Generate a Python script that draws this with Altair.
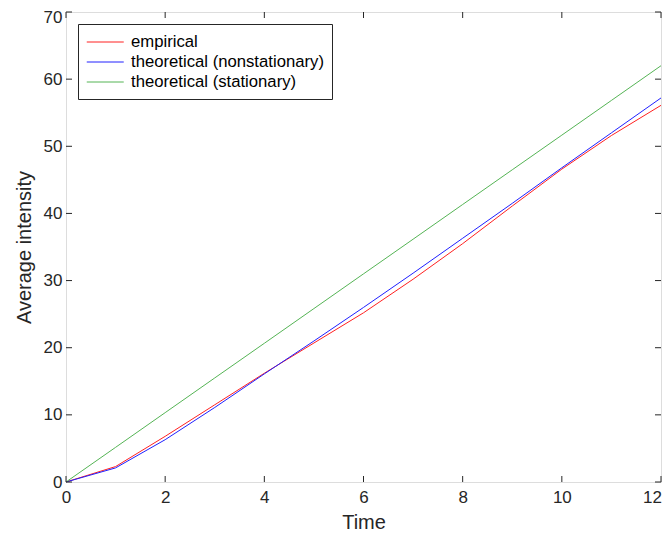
import altair as alt
import pandas as pd

time = [0, 1, 2, 3, 4, 5, 6, 7, 8, 9, 10, 11, 12]
empirical = [0, 2.3, 6.8, 11.5, 16.2, 20.7, 25.2, 30.2, 35.5, 41.1, 46.6, 51.6, 56.1]
nonstationary = [0, 2.1, 6.3, 11.1, 16.1, 21.0, 26.0, 31.1, 36.3, 41.5, 46.8, 52.0, 57.2]
stationary = [0, 5.16, 10.33, 15.5, 20.66, 25.83, 31.0, 36.16, 41.33, 46.5, 51.66, 56.83, 62.0]

series_names = ["empirical", "theoretical (nonstationary)", "theoretical (stationary)"]
series_colors = ["#ff2020", "#2020ff", "#55b455"]

x_ticks = [0, 2, 4, 6, 8, 10, 12]
y_ticks = [0, 10, 20, 30, 40, 50, 60, 70]

rows = []
for name, vals in zip(series_names, [empirical, nonstationary, stationary]):
    for t, v in zip(time, vals):
        rows.append({"Time": t, "value": v, "series": name})
df = pd.DataFrame(rows)

W, H = 595, 470
FONT = "Liberation Sans"
DARK = "#262626"

xs = alt.Scale(domain=[0, 12], nice=False)
ys = alt.Scale(domain=[0, 70], nice=False)

x_axis = alt.Axis(values=x_ticks, title="Time", tickSize=0, domain=False, grid=False,
                  labelPadding=7, titlePadding=7, labelFontSize=17, titleFontSize=20,
                  labelFont=FONT, titleFont=FONT, labelColor=DARK, titleColor=DARK,
                  titleFontWeight="normal", labelFlush=False,
                  labelOffset={"condition": {"test": "datum.value == 12", "value": -9}, "value": 0})
y_axis = alt.Axis(values=y_ticks, title="Average intensity", tickSize=0, domain=False, grid=False,
                  labelPadding=4, titlePadding=9, labelFontSize=17, titleFontSize=20,
                  labelFont=FONT, titleFont=FONT, labelColor=DARK, titleColor=DARK,
                  titleFontWeight="normal",
                  labelOffset={"condition": {"test": "datum.value == 70", "value": 5}, "value": 0})

lines = alt.Chart(df).mark_line(strokeWidth=1).encode(
    x=alt.X("Time:Q", scale=xs, axis=x_axis),
    y=alt.Y("value:Q", scale=ys, axis=y_axis),
    color=alt.Color("series:N", scale=alt.Scale(domain=series_names, range=series_colors),
                    legend=alt.Legend(title=None, orient="none", legendX=12, legendY=12,
                                      symbolType="M-1,0H3", symbolSize=342, symbolStrokeWidth=1,
                                      labelFontSize=16.7, labelFont=FONT, labelColor="#000000",
                                      strokeColor=DARK, fillColor="white", padding=8,
                                      rowPadding=1, labelOffset=25, labelLimit=400)),
    order=alt.Order("Time:Q"),
)

xt_df = pd.DataFrame({"Time": x_ticks})
yt_df = pd.DataFrame({"value": y_ticks})

xtick_b = alt.Chart(xt_df).mark_rule(color=DARK, strokeWidth=1).encode(
    x=alt.X("Time:Q", scale=xs, axis=x_axis), y=alt.value(H), y2=alt.value(H - 6))
xtick_t = alt.Chart(xt_df).mark_rule(color=DARK, strokeWidth=1).encode(
    x=alt.X("Time:Q", scale=xs, axis=x_axis), y=alt.value(0), y2=alt.value(6))
ytick_l = alt.Chart(yt_df).mark_rule(color=DARK, strokeWidth=1).encode(
    y=alt.Y("value:Q", scale=ys, axis=y_axis), x=alt.value(0), x2=alt.value(6))
ytick_r = alt.Chart(yt_df).mark_rule(color=DARK, strokeWidth=1).encode(
    y=alt.Y("value:Q", scale=ys, axis=y_axis), x=alt.value(W), x2=alt.value(W - 6))

chart = alt.layer(lines, xtick_b, xtick_t, ytick_l, ytick_r).properties(
    width=W, height=H,
    autosize=alt.AutoSizeParams(type="none"),
    padding={"left": 58, "top": 4, "right": 1, "bottom": 56},
).configure_view(stroke=DARK, strokeWidth=1).configure(background="white")

chart.save("out.html", embed_options={"renderer": "svg", "actions": False})
